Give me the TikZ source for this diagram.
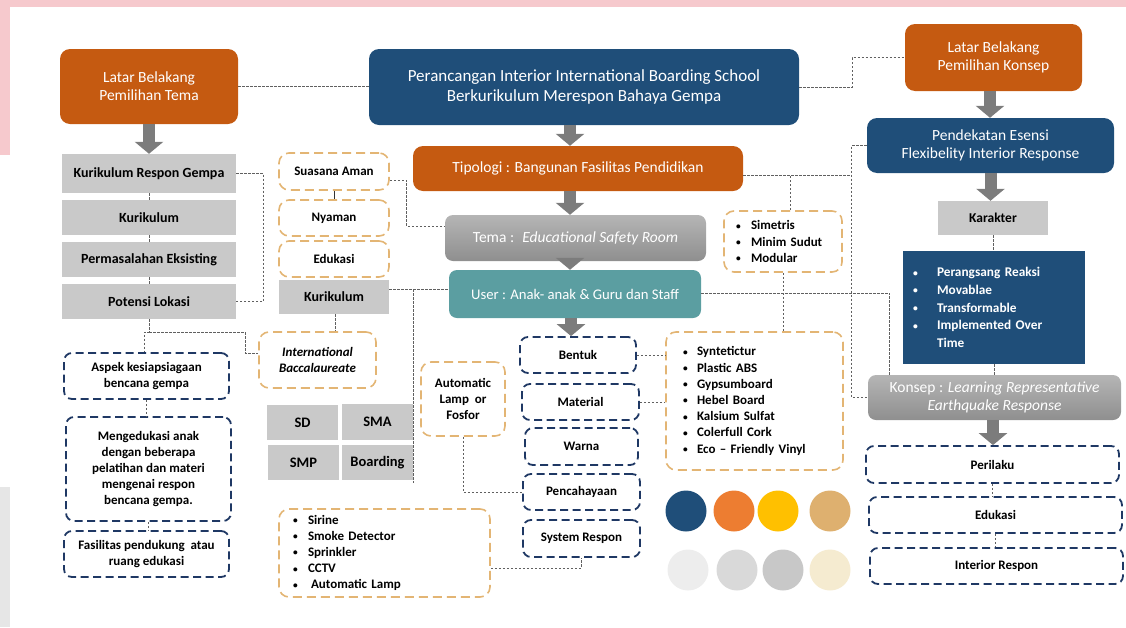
\documentclass[tikz,border=0pt]{standalone}
\usepackage{fontspec}
\usepackage{graphicx}
\setmainfont{Carlito}
\usetikzlibrary{arrows.meta}
\definecolor{orng}{HTML}{C55A11}
\definecolor{navy}{HTML}{1F4E79}
\definecolor{lgray}{HTML}{C9C9C9}
\definecolor{tanc}{HTML}{E3B574}
\definecolor{dnavy}{HTML}{1F3864}
\definecolor{cgray}{HTML}{606060}
\definecolor{agray}{HTML}{7C7C7C}
\definecolor{tealc}{HTML}{5B9EA1}
\definecolor{pinkc}{HTML}{F6C9CD}
\definecolor{stripg}{HTML}{E6E6E6}
\definecolor{sw1}{HTML}{1F4E79}
\definecolor{sw2}{HTML}{ED7D31}
\definecolor{sw3}{HTML}{FFC000}
\definecolor{sw4}{HTML}{DEB06F}
\definecolor{sw5}{HTML}{EDEDED}
\definecolor{sw6}{HTML}{D9D9D9}
\definecolor{sw7}{HTML}{C8C8C8}
\definecolor{sw8}{HTML}{F5EBD0}
\newcommand{\mybul}[1]{\makebox[#1][l]{\raisebox{0.6pt}{\scalebox{0.72}{•}}}}
\tikzset{
 box/.style={inner sep=0pt, align=center},
 orangebox/.style={box, fill=orng, rounded corners=10pt, text=white, font=\fontsize{15.5}{18}\selectfont},
 navybox/.style={box, fill=navy, rounded corners=10pt, text=white, font=\fontsize{15.5}{18}\selectfont},
 graybox/.style={box, fill=lgray, font=\bfseries\fontsize{14}{16}\selectfont},
 shadebox/.style={box, top color=gray!58, bottom color=gray!88, rounded corners=8pt, text=white, font=\fontsize{15.5}{18}\selectfont},
 odash/.style={box, draw=tanc, line width=1.6pt, dash pattern=on 9pt off 5pt, rounded corners=10pt, font=\bfseries\fontsize{13}{16.2}\selectfont},
 ndash/.style={box, draw=dnavy, line width=1.8pt, dash pattern=on 8pt off 4.5pt, rounded corners=8pt, font=\bfseries\fontsize{13}{16.2}\selectfont},
 conn/.style={draw=cgray, line width=0.9pt, dash pattern=on 2.5pt off 1.5pt},
 fatarr/.style={draw=agray, line width=12pt, -{Triangle[width=28pt,length=12pt]}},
 dot/.style={circle, inner sep=0pt, minimum size=41pt},
}
\begin{document}
\begin{tikzpicture}[x=1pt,y=-1pt]
\useasboundingbox (0,0) rectangle (1126,627);
% background decorations
\fill[pinkc] (0,0) rectangle (1126,7);
\fill[pinkc] (0,0) rectangle (10,155);
\fill[stripg] (0,487) rectangle (10,627);

% top row
\node[orangebox, minimum width=178pt, minimum height=75pt] (lbtema) at (149,86.5) {Latar Belakang\\Pemilihan Tema};
\node[navybox, minimum width=430pt, minimum height=76pt, font=\fontsize{17}{20}\selectfont] (title) at (584,87) {Perancangan Interior International Boarding School\\Berkurikulum Merespon Bahaya Gempa};
\node[orangebox, minimum width=177pt, minimum height=67pt] (lbkonsep) at (993.5,57.5) {Latar Belakang\\Pemilihan Konsep};

% left column
\node[graybox, minimum width=174pt, minimum height=39pt] (krg) at (149,173.5) {Kurikulum Respon Gempa};
\node[graybox, minimum width=174pt, minimum height=35pt] (kur1) at (149,217.5) {Kurikulum};
\node[graybox, minimum width=174pt, minimum height=35pt] (perm) at (149,259.5) {Permasalahan Eksisting};
\node[graybox, minimum width=174pt, minimum height=35pt] (pot) at (149,301.5) {Potensi Lokasi};

\node[ndash, minimum width=165pt, minimum height=46pt] (aspek) at (146.5,376) {Aspek kesiapsiagaan\\bencana gempa};
\node[ndash, minimum width=165pt, minimum height=104pt] (meng) at (148.5,469) {Mengedukasi anak\\dengan beberapa\\pelatihan dan materi\\mengenai respon\\bencana gempa.};
\node[ndash, minimum width=165pt, minimum height=46pt] (fas) at (146.5,554) {Fasilitas pendukung~ atau\\ruang edukasi};

% second column
\node[odash, minimum width=110pt, minimum height=37pt] (suasana) at (334,171.5) {Suasana Aman};
\node[odash, minimum width=110pt, minimum height=36pt] (nyaman) at (334,218) {Nyaman};
\node[odash, minimum width=110pt, minimum height=36pt] (edu1) at (334,259) {Edukasi};
\node[graybox, minimum width=110pt, minimum height=34pt] (kur2) at (334,297) {Kurikulum};
\node[odash, minimum width=117pt, minimum height=56pt, font=\bfseries\itshape\fontsize{13}{16.5}\selectfont] (ib) at (317.5,360) {International\\Baccalaureate};

\node[graybox, minimum width=71pt, minimum height=35pt, font=\bfseries\fontsize{14.5}{16}\selectfont] (sd) at (302.5,422.5) {SD};
\node[graybox, minimum width=71pt, minimum height=36pt, font=\bfseries\fontsize{14.5}{16}\selectfont] (sma) at (377.5,422) {SMA};
\node[graybox, minimum width=71pt, minimum height=35pt, font=\bfseries\fontsize{14.5}{16}\selectfont] (smp) at (303.5,462.5) {SMP};
\node[graybox, minimum width=71pt, minimum height=35pt, font=\bfseries\fontsize{14.5}{16}\selectfont] (boarding) at (377.5,462.5) {Boarding};

\node[odash, minimum width=211pt, minimum height=88pt, text width=183pt, inner xsep=14pt, align=left] (sirine) at (384.5,553) {\mybul{15pt}Sirine\\\mybul{15pt}Smoke Detector\\\mybul{15pt}Sprinkler\\\mybul{15pt}CCTV\\\mybul{15pt}\hspace{3pt}Automatic Lamp};

\node[odash, minimum width=84pt, minimum height=74pt] (autolamp) at (463,399) {Automatic\\Lamp~ or\\Fosfor};

% center column
\node[orangebox, minimum width=330pt, minimum height=45pt] (tipologi) at (578,168.5) {Tipologi : Bangunan Fasilitas Pendidikan};
\node[shadebox, minimum width=261pt, minimum height=46pt] (tema) at (575.5,238) {Tema :~ \textit{Educational Safety Room}};
\node[box, fill=tealc, rounded corners=8pt, text=white, font=\fontsize{14.7}{18}\selectfont, minimum width=252pt, minimum height=48pt] (user) at (575,294) {User : Anak- anak \& Guru dan Staff};

\node[ndash, minimum width=116pt, minimum height=36pt] (bentuk) at (578,355) {Bentuk};
\node[ndash, minimum width=117pt, minimum height=36pt] (material) at (580.5,402) {Material};
\node[ndash, minimum width=113pt, minimum height=37pt] (warna) at (581.5,446.5) {Warna};
\node[ndash, minimum width=117pt, minimum height=36pt] (penc) at (581.5,492) {Pencahayaan};
\node[ndash, minimum width=117pt, minimum height=37pt] (sysresp) at (581.5,538.5) {System Respon};

\node[odash, minimum width=177pt, minimum height=138pt, text width=143pt, inner xsep=17pt, align=left] (matlist) at (754.5,401) {\mybul{14pt}Syntetictur\\\mybul{14pt}Plastic ABS\\\mybul{14pt}Gypsumboard\\\mybul{14pt}Hebel Board\\\mybul{14pt}Kalsium Sulfat\\\mybul{14pt}Colerfull Cork\\\mybul{14pt}Eco – Friendly Vinyl};

\node[odash, minimum width=118pt, minimum height=61pt, text width=94pt, inner xsep=12pt, align=left] (simetris) at (783,241.5) {\mybul{15pt}Simetris\\\mybul{15pt}Minim Sudut\\\mybul{15pt}Modular};

% colour swatches
\node[dot, fill=sw1] (c1) at (686,511) {};
\node[dot, fill=sw2] (c2) at (734,511) {};
\node[dot, fill=sw3] (c3) at (778,511) {};
\node[dot, fill=sw4] (c4) at (830,511) {};
\node[dot, fill=sw5] (c5) at (688,570) {};
\node[dot, fill=sw6] (c6) at (737,570) {};
\node[dot, fill=sw7] (c7) at (783,570) {};
\node[dot, fill=sw8] (c8) at (830,570) {};

% right column
\node[navybox, minimum width=247pt, minimum height=55pt] (pendekatan) at (990.5,145.5) {Pendekatan Esensi\\Flexibelity Interior Response};
\node[graybox, minimum width=110pt, minimum height=34pt, font=\bfseries\fontsize{13.5}{16}\selectfont] (karakter) at (993,218) {Karakter};
\node[box, fill=navy, text=white, minimum width=182pt, minimum height=113pt, text width=162pt, inner xsep=10pt, align=left, font=\bfseries\fontsize{13.3}{17.7}\selectfont] (karlist) at (994,307.5) {\mybul{24pt}Perangsang Reaksi\\\mybul{24pt}Movablae\\\mybul{24pt}Transformable\\\mybul{24pt}Implemented Over\\\makebox[24pt][l]{}Time\\[4pt]};
\node[shadebox, minimum width=253pt, minimum height=45pt] (konsep) at (994.5,397.5) {Konsep : \textit{Learning Representative}\\\textit{Earthquake Response}};
\node[ndash, minimum width=253pt, minimum height=37pt] (perilaku) at (992.5,464.5) {Perilaku};
\node[ndash, minimum width=253pt, minimum height=36pt] (edu2) at (995.5,515) {Edukasi};
\node[ndash, minimum width=253pt, minimum height=36pt] (interior) at (996.5,566) {Interior Respon};

% helper coordinates
\coordinate (jA) at (148,332);
\coordinate (tl) at ([yshift=-6.5pt]tipologi.east);
\coordinate (kl) at ([yshift=8pt]kur2.east);
\coordinate (sn) at ([xshift=7pt]simetris.north);

% fat arrows
\draw[fatarr] (lbtema.south) -- (lbtema.south |- krg.north);
\draw[fatarr] ([xshift=-14pt]title.south) -- ([xshift=-14pt]title.south |- tipologi.north);
\draw[fatarr] ([xshift=-8pt]tipologi.south) -- ([xshift=-8pt]tipologi.south |- tema.north);
\draw[fatarr] ([xshift=-5.5pt]tema.south) -- ([xshift=-5.5pt]tema.south |- user.north);
\draw[fatarr] ([xshift=-4pt]user.south) -- ([xshift=-4pt]user.south |- bentuk.north);
\draw[fatarr] ([xshift=-3.5pt]lbkonsep.south) -- ([xshift=-3.5pt]lbkonsep.south |- pendekatan.north);
\draw[fatarr] (pendekatan.south) -- (pendekatan.south |- karakter.north);
\draw[fatarr] ([xshift=-1.5pt]konsep.south) -- ([xshift=-1.5pt]konsep.south |- perilaku.north);

% dotted connectors
\draw[conn] (lbtema.east) -- (lbtema.east -| title.west);
\draw[conn] (title.east) -- ++(53,0) |- (lbkonsep.west);
\draw[conn] (krg.east) -- ++(27,0) |- (pot.east);
\draw[conn] (krg.south) -- (kur1.north);
\draw[conn] (kur1.south) -- (perm.north);
\draw[conn] (perm.south) -- (pot.north);
\draw[conn] (pot.south) -- (pot.south |- jA) -| ([xshift=-2pt]aspek.north);
\draw[conn] (pot.south |- jA) -- (245,332) |- ([yshift=7pt]ib.west);
\draw[conn] (aspek.south) -- (aspek.south |- meng.north);
\draw[conn] (meng.south) -- (meng.south |- fas.north);
\draw[draw=black!80, line width=0.9pt] (suasana.south) -- (nyaman.north);
\draw[conn] ([yshift=-8.5pt]suasana.east) -- ++(17,0) |- ([yshift=12pt]tema.west);
\draw[conn] (kl) -- (kl -| user.west);
\draw[conn] (kl -| boarding.east) -- ([yshift=-3pt]boarding.south east);
\draw[conn] ([xshift=1.5pt]kur2.south) -- ([xshift=1.5pt]kur2.south |- ib.north);
\draw[conn] (autolamp.south) |- (penc.west);
\draw[conn] ([yshift=-15pt]sirine.east) -| (sysresp.south);
\draw[conn] (bentuk.east) -- (bentuk.east -| matlist.west);
\draw[conn] (material.east) -- (material.east -| matlist.west);
\draw[conn] (tl) -- ++(109,0);
\draw[conn] (sn) -- (sn |- tl);
\draw[conn] (pendekatan.west) -- ++(-15,0) |- (konsep.west);
\draw[conn] (simetris.south) -- (simetris.south |- matlist.north);
\draw[conn] ([yshift=1pt]user.east) -| ([xshift=22pt]konsep.north west);
\draw[conn] (karakter.south) -- (karakter.south |- karlist.north);
\draw[conn] (karlist.south) -- (karlist.south |- konsep.north);
\draw[conn] (perilaku.south) -- (perilaku.south |- edu2.north);
\draw[conn] (edu2.south) -- (edu2.south |- interior.north);
\end{tikzpicture}
\end{document}
